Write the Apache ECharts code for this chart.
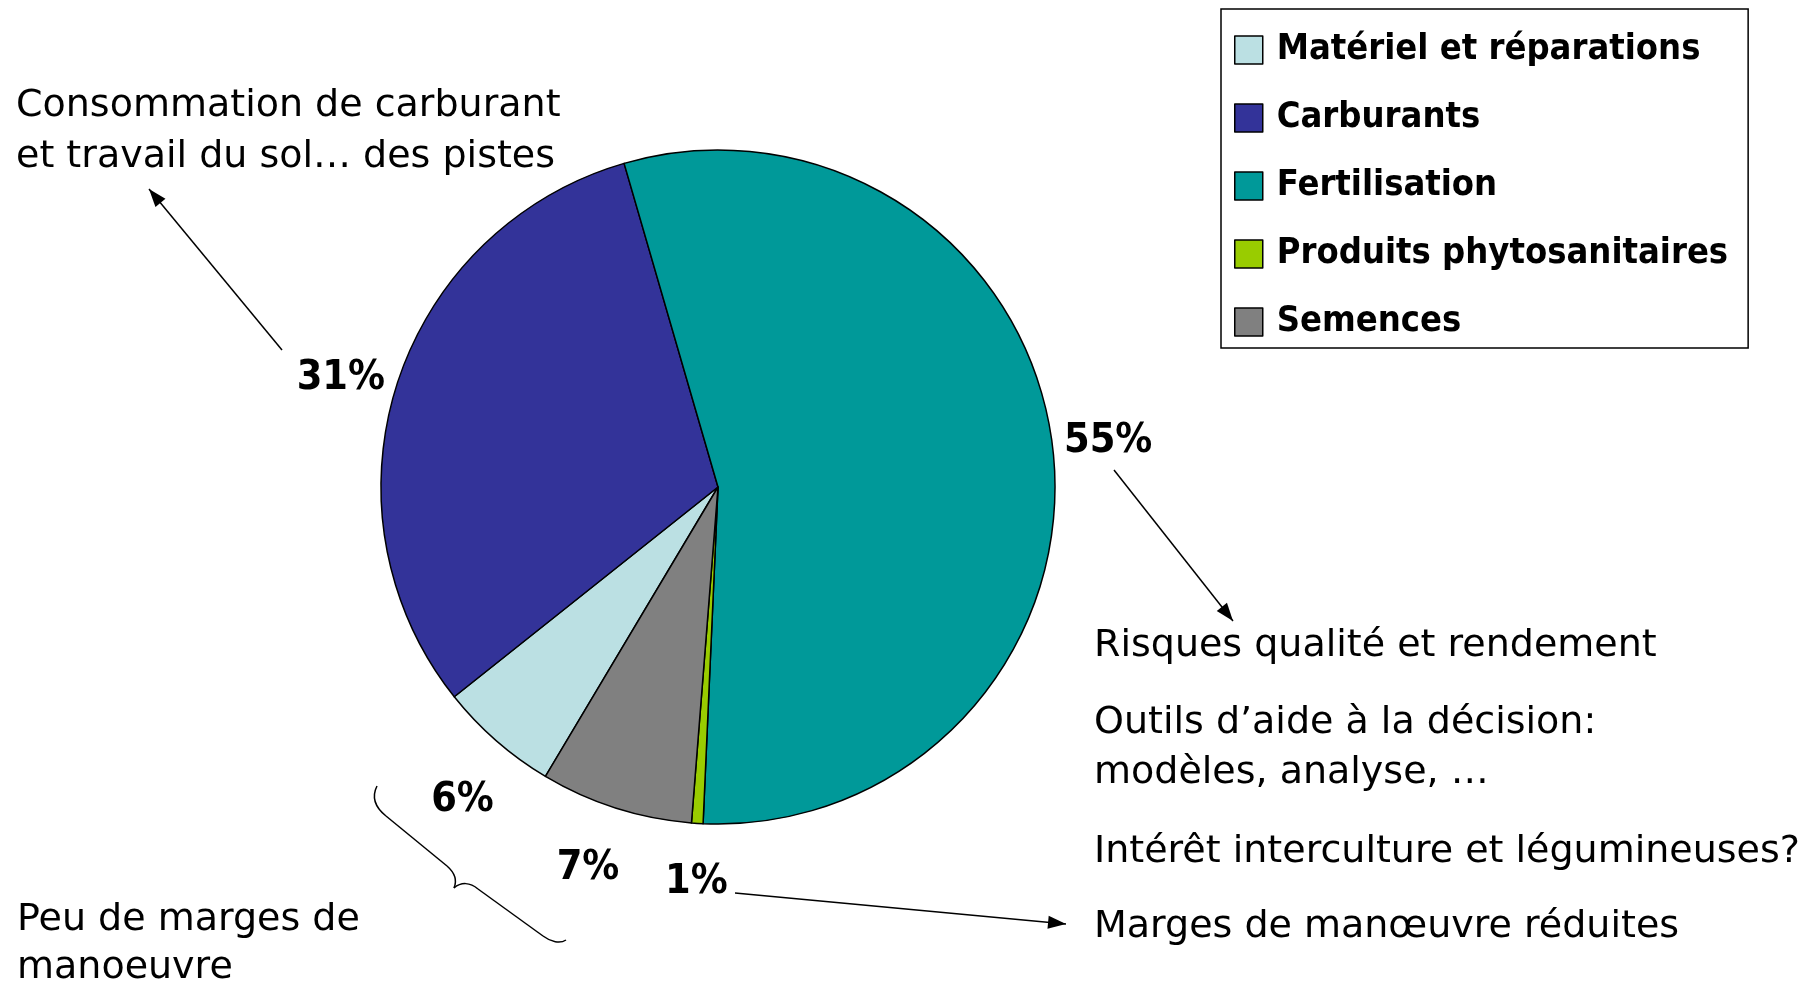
<!DOCTYPE html>
<html>
<head>
<meta charset="utf-8">
<script src="https://cdn.jsdelivr.net/npm/echarts@6/dist/echarts.min.js"></script>
<style>
html,body{margin:0;padding:0;background:#fff;}
#chart{width:1820px;height:986px;}
</style>
</head>
<body>
<div id="chart"></div>
<script>
// ---- data ----
const categories = ['Matériel et réparations', 'Carburants', 'Fertilisation', 'Produits phytosanitaires', 'Semences'];
const values = [5.75, 31.2, 55.2, 0.55, 7.3];
const colors = ['#BBE0E3', '#333399', '#009999', '#99CC00', '#808080'];

// annotation texts
const noteTopLeft = ['Consommation de carburant', 'et travail du sol… des pistes'];
const notesRight = ['Risques qualité et rendement', 'Outils d’aide à la décision:', 'modèles, analyse, …', 'Intérêt interculture et légumineuses?', 'Marges de manœuvre réduites'];
const noteBottomLeft = ['Peu de marges de', 'manoeuvre'];

// ---- layout ----
const CENTER = [718, 487];
const R = 337;
const NOTE_FONT = '"DejaVu Sans", sans-serif';
const NOTE_SIZE = 38;
const BOLD_FONT = '"Liberation Sans Narrow", "Arial Narrow", "DejaVu Sans Condensed", sans-serif';
// small label nudges (pixels) to follow the original label placement
const labelNudge = [[7, 13], [3, 12], [-6, 2], [3, -3], [-9, 1]];

const pieData = categories.map((c, i) => ({ name: c, value: values[i], itemStyle: { color: colors[i] } }));

const graphics = [];
function addText(str, x, baseline) {
  graphics.push({
    type: 'text', x: x, y: baseline - NOTE_SIZE * 0.36,
    style: { text: str, font: NOTE_SIZE + 'px ' + NOTE_FONT, fill: '#000', textAlign: 'left', textVerticalAlign: 'middle' },
    silent: true
  });
}
addText(noteTopLeft[0], 16, 120);
addText(noteTopLeft[1], 16, 171);
const rightBaselines = [660, 737, 787, 866, 941];
notesRight.forEach((t, i) => addText(t, 1094, rightBaselines[i]));
addText(noteBottomLeft[0], 17, 934);
addText(noteBottomLeft[1], 17, 982);

function addArrow(x1, y1, x2, y2) {
  graphics.push({ type: 'line', shape: { x1, y1, x2, y2 }, style: { stroke: '#000', lineWidth: 1.5 }, silent: true });
  const dx = x2 - x1, dy = y2 - y1, len = Math.hypot(dx, dy);
  const ux = dx / len, uy = dy / len, nx = -uy, ny = ux;
  const L = 18, W = 13;
  const bx = x2 - ux * L, by = y2 - uy * L;
  graphics.push({ type: 'polygon', shape: { points: [[x2, y2], [bx + nx * W / 2, by + ny * W / 2], [bx - nx * W / 2, by - ny * W / 2]] }, style: { fill: '#000' }, silent: true });
}
addArrow(282, 350, 149, 189);
addArrow(1114, 470, 1233, 621);
addArrow(735, 893, 1066, 924);

// brace
const braceStyle = { stroke: '#000', lineWidth: 1.5, fill: null };
function bz(x1, y1, c1x, c1y, c2x, c2y, x2, y2) {
  graphics.push({ type: 'bezierCurve', shape: { x1, y1, cpx1: c1x, cpy1: c1y, cpx2: c2x, cpy2: c2y, x2, y2 }, style: braceStyle, silent: true });
}
function ln(x1, y1, x2, y2) {
  graphics.push({ type: 'line', shape: { x1, y1, x2, y2 }, style: braceStyle, silent: true });
}
bz(377, 786, 371, 798, 376, 808, 386, 816);
ln(386, 816, 447, 866);
bz(447, 866, 455, 873, 457, 881, 454, 888);
bz(454, 888, 461, 882, 470, 882, 478, 889);
ln(478, 889, 543, 936);
bz(543, 936, 551, 942, 560, 944, 566, 940);

const chart = echarts.init(document.getElementById('chart'), null, { renderer: 'canvas' });
chart.setOption({
  animation: false,
  backgroundColor: '#fff',
  legend: {
    orient: 'vertical',
    left: 1221, top: 9,
    padding: [21, 20, 6, 13],
    itemWidth: 28, itemHeight: 28, itemGap: 28,
    borderColor: '#000', borderWidth: 1.5,
    icon: 'rect',
    data: categories,
    itemStyle: { borderColor: '#000', borderWidth: 1.5 },
    textStyle: { fontFamily: BOLD_FONT, fontWeight: 'bold', fontSize: 36, lineHeight: 40, color: '#000', padding: [0, 0, 0, 9] },
    selectedMode: false
  },
  series: [
    {
      type: 'pie',
      center: CENTER,
      radius: [0, R],
      startAngle: 239.2,
      clockwise: true,
      data: pieData,
      itemStyle: { borderColor: '#000', borderWidth: 1.5 },
      label: { show: false },
      labelLine: { show: false },
      emphasis: { disabled: true },
      silent: true
    },
    {
      type: 'pie',
      center: CENTER,
      radius: [R + 35, R + 83],
      startAngle: 239.2,
      clockwise: true,
      data: pieData.map(d => ({ name: d.name, value: d.value })),
      itemStyle: { color: 'rgba(0,0,0,0)', borderWidth: 0 },
      avoidLabelOverlap: false,
      label: {
        show: true, position: 'inside',
        formatter: p => Math.round(p.percent) + '%',
        fontFamily: BOLD_FONT, fontWeight: 'bold', fontSize: 41, color: '#000'
      },
      labelLayout: p => ({ dx: labelNudge[p.dataIndex][0], dy: labelNudge[p.dataIndex][1] }),
      labelLine: { show: false },
      emphasis: { disabled: true },
      silent: true
    }
  ],
  graphic: { elements: graphics }
});
</script>
</body>
</html>
